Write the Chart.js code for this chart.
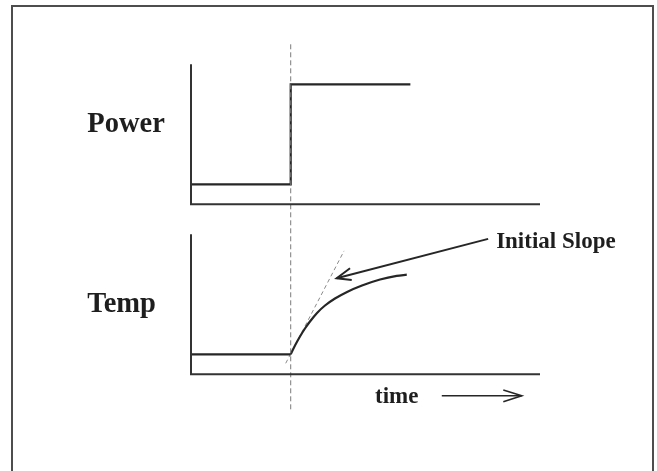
<!DOCTYPE html>
<html>
<head>
<meta charset="utf-8">
<script src="https://cdn.jsdelivr.net/npm/chart.js@4/dist/chart.umd.min.js"></script>
<style>
  html, body { margin: 0; padding: 0; background: #ffffff; overflow: hidden; }
  #wrap { position: relative; width: 657px; height: 471px; }
  #frame { position: absolute; left: 11px; top: 5px; width: 639px; height: 520px; border: 2px solid #4d4d4d; box-sizing: content-box; }
  #c { position: absolute; left: 0; top: 0; }
</style>
</head>
<body>
<div id="wrap">
  <div id="frame"></div>
  <canvas id="c" width="657" height="471"></canvas>
</div>
<script>
// ---- data (time in arbitrary units, power / temperature in arbitrary units) ----
const stepTime = 10;                       // moment the power is switched up
const powerTime  = [0, 10, 10, 22];
const powerValue = [1, 1, 6, 6];
const tempBaseTime  = [0, 10];
const tempBaseValue = [1, 1];
const tempRiseTime  = [10, 10.43, 10.93, 11.43, 11.93, 12.64, 13.44, 14.44, 15.65, 17.15, 18.96, 20.63, 21.64];
const tempRiseValue = [1, 1.44, 1.89, 2.29, 2.64, 3.07, 3.44, 3.79, 4.12, 4.44, 4.74, 4.92, 4.98];
const slopeTime  = [9.5, 15.35];           // initial-slope tangent
const slopeValue = [0.55, 6.17];
const axisTimeMax = 35;
const powerAxisMax = 7;
const tempAxisMax = 7;
const labelText = ['Power', 'Temp', 'Initial Slope', 'time'];

// ---- annotation layout (kept apart from the data) ----
const anno = {
  labels: [
    { axis: 'yP', x: -10.4, y: 3.6,   size: 28.5 },
    { axis: 'yT', x: -10.4, y: 3.13,  size: 28.5 },
    { axis: 'yT', x: 30.6,  y: 6.3,   size: 23 },
    { axis: 'yT', x: 18.45, y: -1.435, size: 23 }
  ],
  slopeArrow: { tail: [29.8, 6.77], tip: [14.61, 4.8], w1: [15.95, 5.3], w2: [16.12, 4.72] },
  timeArrow:  { tail: [25.15, -1.07], tip: [33.17, -1.07], w1: [31.32, -0.785], w2: [31.32, -1.37] }
};

const pts = (xs, ys) => xs.map((x, i) => ({ x: x, y: ys[i] }));
const ink = '#262626';
const base = { pointRadius: 0, fill: false, clip: false, borderCapStyle: 'butt', borderJoinStyle: 'miter', tension: 0 };

const datasets = [
  Object.assign({}, base, { label: 'powerAxes', yAxisID: 'yP', borderColor: '#333', borderWidth: 2,
    data: pts([axisTimeMax, 0, 0], [0, 0, powerAxisMax]) }),
  Object.assign({}, base, { label: 'tempAxes', yAxisID: 'yT', borderColor: '#333', borderWidth: 2,
    data: pts([axisTimeMax, 0, 0], [0, 0, tempAxisMax]) }),
  Object.assign({}, base, { label: 'step', yAxisID: 'yP', borderColor: '#7a7a7a', borderWidth: 1, borderDash: [5, 3],
    data: pts([stepTime, stepTime], [8, -10.4]) }),
  Object.assign({}, base, { label: 'Power', yAxisID: 'yP', borderColor: ink, borderWidth: 2.2,
    data: pts(powerTime, powerValue) }),
  Object.assign({}, base, { label: 'TempBase', yAxisID: 'yT', borderColor: ink, borderWidth: 2.2,
    data: pts(tempBaseTime, tempBaseValue) }),
  Object.assign({}, base, { label: 'TempRise', yAxisID: 'yT', borderColor: ink, borderWidth: 2.2,
    cubicInterpolationMode: 'monotone', data: pts(tempRiseTime, tempRiseValue) }),
  Object.assign({}, base, { label: 'Slope', yAxisID: 'yT', borderColor: '#8a8a8a', borderWidth: 1, borderDash: [4, 3],
    data: pts(slopeTime, slopeValue) }),
  Object.assign({}, base, { label: 'arrowShaft', yAxisID: 'yT', borderColor: ink, borderWidth: 2,
    data: [anno.slopeArrow.tail, anno.slopeArrow.tip].map(p => ({ x: p[0], y: p[1] })) }),
  Object.assign({}, base, { label: 'arrowHead', yAxisID: 'yT', borderColor: ink, borderWidth: 2,
    data: [anno.slopeArrow.w1, anno.slopeArrow.tip, anno.slopeArrow.w2].map(p => ({ x: p[0], y: p[1] })) }),
  Object.assign({}, base, { label: 'timeShaft', yAxisID: 'yT', borderColor: ink, borderWidth: 1.6,
    data: [anno.timeArrow.tail, anno.timeArrow.tip].map(p => ({ x: p[0], y: p[1] })) }),
  Object.assign({}, base, { label: 'timeHead', yAxisID: 'yT', borderColor: ink, borderWidth: 1.6,
    data: [anno.timeArrow.w1, anno.timeArrow.tip, anno.timeArrow.w2].map(p => ({ x: p[0], y: p[1] })) })
];

const textPlugin = {
  id: 'textLabels',
  afterDatasetsDraw(chart) {
    const ctx = chart.ctx;
    const xs = chart.scales.x;
    ctx.save();
    ctx.fillStyle = '#1e1e1e';
    ctx.textBaseline = 'alphabetic';
    ctx.textAlign = 'left';
    labelText.forEach((t, i) => {
      const a = anno.labels[i];
      ctx.font = 'bold ' + a.size + 'px "Liberation Serif", "Times New Roman", serif';
      ctx.fillText(t, xs.getPixelForValue(a.x), chart.scales[a.axis].getPixelForValue(a.y));
    });
    ctx.restore();
  }
};

new Chart(document.getElementById('c').getContext('2d'), {
  type: 'line',
  data: { datasets: datasets },
  options: {
    responsive: false,
    animation: false,
    events: [],
    layout: { padding: { left: 191, right: 117, top: 44.3, bottom: 58.7 } },
    plugins: { legend: { display: false }, tooltip: { enabled: false }, title: { display: false } },
    scales: {
      x:  { type: 'linear', display: false, min: 0, max: axisTimeMax },
      yP: { type: 'linear', display: false, min: -10.4, max: 8 },
      yT: { type: 'linear', display: false, min: -1.9, max: 16.5 }
    }
  },
  plugins: [textPlugin]
});
</script>
</body>
</html>
